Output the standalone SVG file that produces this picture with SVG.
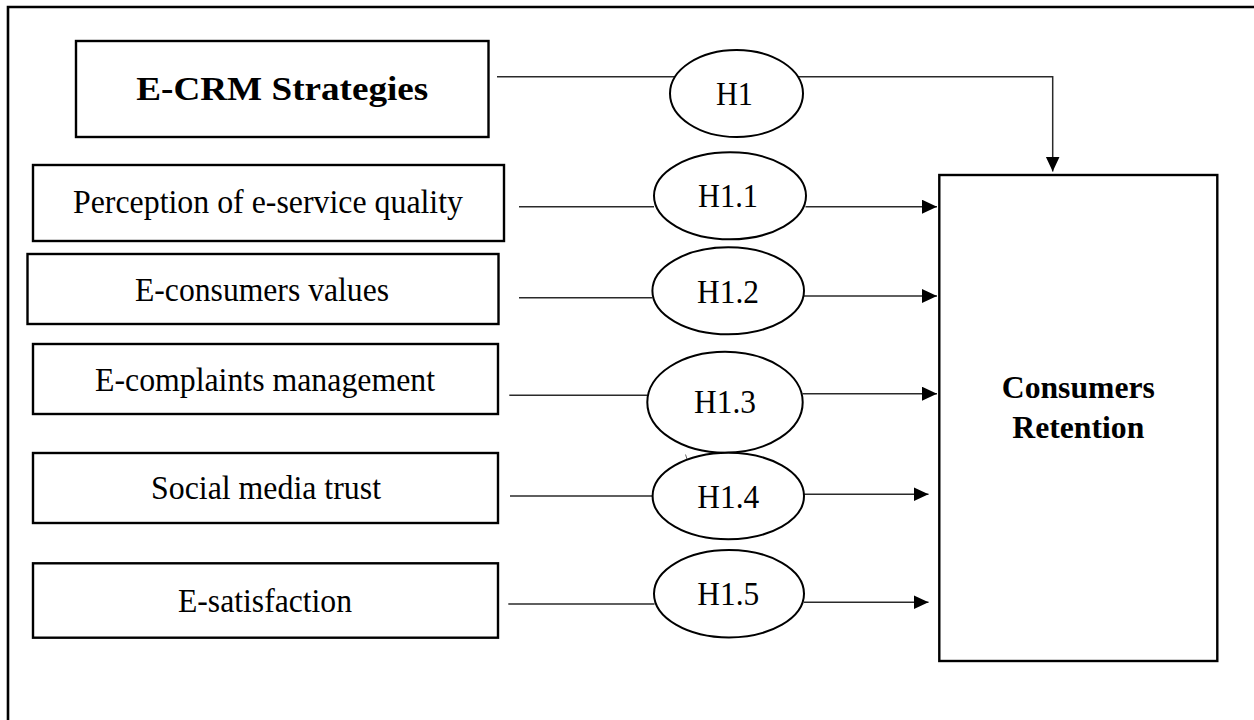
<svg xmlns="http://www.w3.org/2000/svg" width="1254" height="720" viewBox="0 0 1254 720">
  <style>
    .box { fill: #fff; stroke: #000; stroke-width: 2.4; }
    .hyp { fill: #fff; stroke: #000; stroke-width: 2; }
    .lbl { font-family: "Liberation Serif", "Times New Roman", serif; font-size: 34px; fill: #000; text-anchor: middle; }
    .title { font-family: "Liberation Serif", "Times New Roman", serif; font-size: 32px; font-weight: bold; fill: #000; text-anchor: middle; }
    .hl { font-family: "Liberation Serif", "Times New Roman", serif; font-size: 33px; fill: #000; text-anchor: middle; }
    .wire { fill: none; stroke: #2a2a2a; stroke-width: 1.5; }
    .frame { fill: none; stroke: #000; stroke-width: 2.6; }
  </style>
  <defs>
    <marker id="head" markerUnits="userSpaceOnUse" markerWidth="16" markerHeight="16" refX="15" refY="7" orient="auto">
      <path d="M0,0 L15,7 L0,14 Z" fill="#000"/>
    </marker>
  </defs>

  <!-- outer frame: only top and left edges are drawn -->
  <path class="frame" d="M8,720 L8,7 L1254,7"/>

  <!-- connectors -->
  <g id="connectors">
    <path class="wire" d="M497,76.7 L1052.7,76.7 L1052.7,171.5" marker-end="url(#head)"/>
    <line class="wire" x1="519" y1="206.7" x2="654" y2="206.7"/>
    <line class="wire" x1="805.5" y1="206.7" x2="937" y2="206.7" marker-end="url(#head)"/>
    <line class="wire" x1="519" y1="297.7" x2="652.5" y2="297.7"/>
    <line class="wire" x1="804" y1="296" x2="937" y2="296" marker-end="url(#head)"/>
    <line class="wire" x1="509.3" y1="395.3" x2="647.5" y2="395.3"/>
    <line class="wire" x1="802.5" y1="393.7" x2="937" y2="393.7" marker-end="url(#head)"/>
    <line class="wire" x1="510" y1="496" x2="653" y2="496"/>
    <line class="wire" x1="804" y1="494.3" x2="928.5" y2="494.3" marker-end="url(#head)"/>
    <line class="wire" x1="508.3" y1="604" x2="654.5" y2="604"/>
    <line class="wire" x1="804" y1="602.3" x2="928.5" y2="602.3" marker-end="url(#head)"/>
    <path d="M685.5,454.5 L687,459" fill="none" stroke="#555" stroke-width="0.9"/>
  </g>

  <!-- construct boxes -->
  <g id="ecrm">
    <rect class="box" x="76" y="41" width="412.5" height="96"/>
    <text class="title" x="282.3" y="100" style="font-size:33px" textLength="292" lengthAdjust="spacingAndGlyphs">E-CRM Strategies</text>
  </g>
  <g id="eservice">
    <rect class="box" x="33" y="165" width="471" height="76"/>
    <text class="lbl" x="268" y="213" textLength="390" lengthAdjust="spacingAndGlyphs">Perception of e-service quality</text>
  </g>
  <g id="evalues">
    <rect class="box" x="27.5" y="254" width="471" height="70"/>
    <text class="lbl" x="262" y="301" textLength="254" lengthAdjust="spacingAndGlyphs">E-consumers values</text>
  </g>
  <g id="ecomplaints">
    <rect class="box" x="33" y="344" width="465" height="70"/>
    <text class="lbl" x="265" y="391" textLength="340" lengthAdjust="spacingAndGlyphs">E-complaints management</text>
  </g>
  <g id="smtrust">
    <rect class="box" x="33" y="453" width="465" height="70"/>
    <text class="lbl" x="266" y="499" textLength="230" lengthAdjust="spacingAndGlyphs">Social media trust</text>
  </g>
  <g id="esatisfaction">
    <rect class="box" x="33" y="563.3" width="465" height="74.4"/>
    <text class="lbl" x="265" y="612" textLength="174" lengthAdjust="spacingAndGlyphs">E-satisfaction</text>
  </g>
  <g id="retention">
    <rect class="box" x="939.3" y="175" width="278" height="486" stroke-width="3"/>
    <text class="title" x="1078.3" y="398" textLength="153" lengthAdjust="spacingAndGlyphs">Consumers</text>
    <text class="title" x="1078.3" y="438" textLength="132" lengthAdjust="spacingAndGlyphs">Retention</text>
  </g>

  <!-- hypothesis ellipses -->
  <g id="h1">
    <ellipse class="hyp" cx="736.5" cy="93.5" rx="66.5" ry="43.5"/>
    <text class="hl" x="734.5" y="105" textLength="37" lengthAdjust="spacingAndGlyphs">H1</text>
  </g>
  <g id="h1-1">
    <ellipse class="hyp" cx="730" cy="195.8" rx="76" ry="43.5"/>
    <text class="hl" x="728" y="206.7" textLength="60" lengthAdjust="spacingAndGlyphs">H1.1</text>
  </g>
  <g id="h1-2">
    <ellipse class="hyp" cx="728.2" cy="290.8" rx="75.8" ry="43.5"/>
    <text class="hl" x="728" y="302.7" textLength="62" lengthAdjust="spacingAndGlyphs">H1.2</text>
  </g>
  <g id="h1-3">
    <ellipse class="hyp" cx="725" cy="402.2" rx="77.7" ry="50.5"/>
    <text class="hl" x="725" y="413.3" textLength="62" lengthAdjust="spacingAndGlyphs">H1.3</text>
  </g>
  <g id="h1-4">
    <ellipse class="hyp" cx="728.3" cy="496" rx="75.7" ry="43.3"/>
    <text class="hl" x="728.3" y="508.3" textLength="62" lengthAdjust="spacingAndGlyphs">H1.4</text>
  </g>
  <g id="h1-5">
    <ellipse class="hyp" cx="729" cy="593.7" rx="75" ry="43.7"/>
    <text class="hl" x="728.3" y="605" textLength="62" lengthAdjust="spacingAndGlyphs">H1.5</text>
  </g>
</svg>
